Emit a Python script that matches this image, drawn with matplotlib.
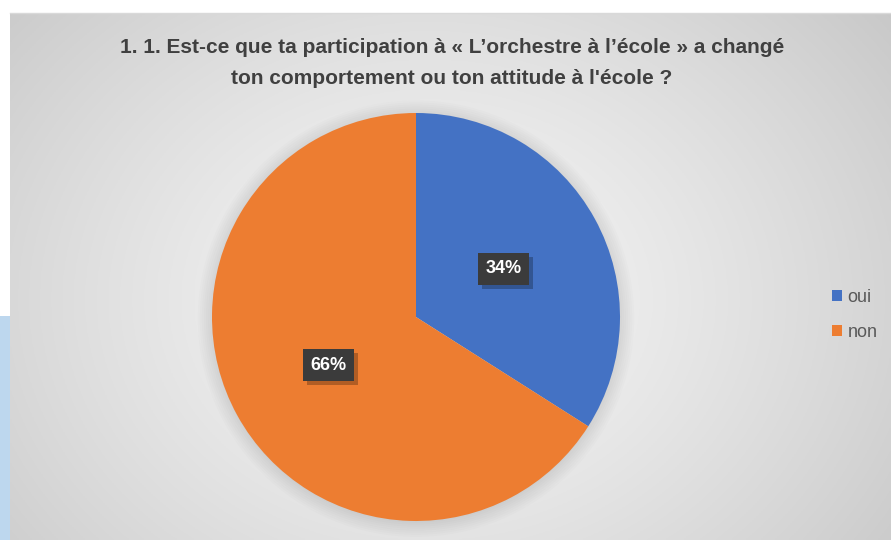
import numpy as np
import matplotlib
matplotlib.use("Agg")
import matplotlib.pyplot as plt
from matplotlib.patches import Rectangle, Circle
import matplotlib.patheffects as pe

plt.rcParams['font.family'] = ['Liberation Sans', 'DejaVu Sans']

title = "1. 1. Est-ce que ta participation à « L’orchestre à l’école » a changé\nton comportement ou ton attitude à l'école ?"
categories = ["oui", "non"]
values = [34, 66]
colors = ["#4472C4", "#ED7D31"]

W, H = 891, 540
fig = plt.figure(figsize=(W / 100, H / 100), dpi=100)
fig.patch.set_facecolor("white")

# left accent strip
fig.add_artist(Rectangle((0, 0), 10 / W, (H - 316) / H, transform=fig.transFigure,
                         facecolor="#BDD7EE", edgecolor="none", zorder=0))

# chart area with radial gradient background
x0, y0 = 10 / W, 0
bg = fig.add_axes([x0, y0, 1 - x0, (H - 13) / H], zorder=0)
bg.set_axis_off()
nx, ny = 400, 240
xx, yy = np.meshgrid(np.linspace(10, W, nx), np.linspace(13, H, ny))
cx, cy = 430, 300
d = np.sqrt(((xx - cx) / 520) ** 2 + ((yy - cy) / 420) ** 2)
d = np.clip(d, 0, 1.2)
light, dark = 0.965, 0.77
g = light - (light - dark) * (d / 1.2) ** 1.3
img = np.dstack([g, g, g])
bg.imshow(img, aspect="auto", extent=[0, 1, 0, 1], origin="upper")
bg.set_xlim(0, 1)
bg.set_ylim(0, 1)
fig.add_artist(plt.Line2D([x0, 1], [(H - 13) / H] * 2, transform=fig.transFigure,
                          color="#d9d9d9", lw=1))

fig.text(452 / W, 1 - 63 / H, title, ha="center", va="center", fontsize=15,
         fontweight="bold", color="#404040", linespacing=1.85)

# pie, with some margin in the axes so the soft shadow is not clipped
pcx, pcy, r = 416, 317, 204
m = 1.25
ax = fig.add_axes([(pcx - r * m) / W, 1 - (pcy + r * m) / H, 2 * r * m / W, 2 * r * m / H])
ax.set_aspect("equal")
ax.set_axis_off()

for k in range(8):
    ax.add_patch(Circle((0.0, -0.008), 1.0 + 0.01 * k, facecolor="black",
                        alpha=0.012, edgecolor="none", zorder=0))

wedges, texts, autotexts = ax.pie(
    values, colors=colors, startangle=90, counterclock=False,
    autopct=lambda p: f"{p:.0f}%", pctdistance=0.49,
    wedgeprops=dict(linewidth=0), radius=1.0)
for w in wedges:
    w.set_zorder(2)
for t in autotexts:
    t.set_color("white")
    t.set_fontsize(13)
    t.set_fontweight("bold")
    t.set_zorder(5)
    t.set_bbox(dict(boxstyle="square,pad=0.42", facecolor="#3b3b3b", edgecolor="none"))
ax.set_xlim(-m, m)
ax.set_ylim(-m, m)

for t in autotexts:
    bb = t.get_bbox_patch()
    bb.set_path_effects([pe.SimplePatchShadow(offset=(3, -3), shadow_rgbFace="black", alpha=0.25),
                         pe.Normal()])

# legend
handles = [Rectangle((0, 0), 1, 1, facecolor=c, edgecolor="none") for c in colors]
leg = fig.legend(handles, categories, loc="center left",
                 bbox_to_anchor=(816 / W, 1 - 315 / H), frameon=False,
                 fontsize=13, handlelength=0.55, handleheight=0.55,
                 handletextpad=0.3, labelspacing=1.0, labelcolor="#595959")

fig.savefig("out.png", dpi=100)
